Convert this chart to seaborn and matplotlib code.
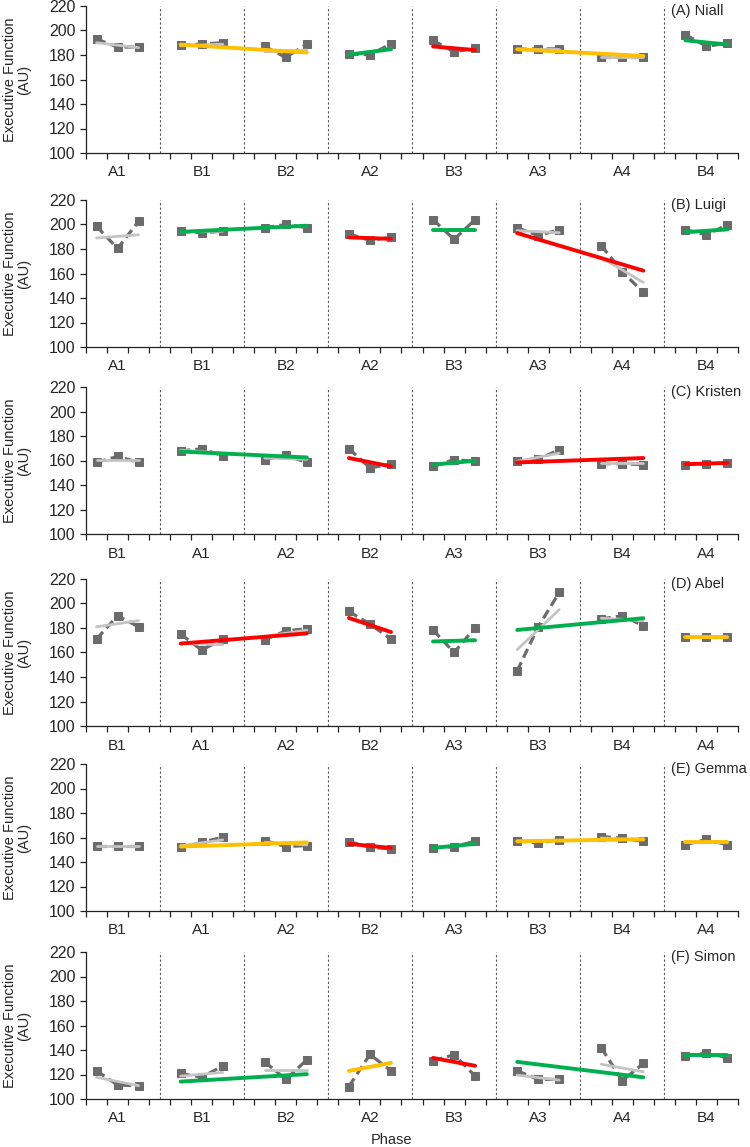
import matplotlib
matplotlib.use("Agg")
import matplotlib.pyplot as plt
import numpy as np
import pandas as pd
import seaborn as sns

participants = ["(A) Niall", "(B) Luigi", "(C) Kristen", "(D) Abel", "(E) Gemma", "(F) Simon"]

phase_orders = [
    ["A1", "B1", "B2", "A2", "B3", "A3", "A4", "B4"],
    ["A1", "B1", "B2", "A2", "B3", "A3", "A4", "B4"],
    ["B1", "A1", "A2", "B2", "A3", "B3", "B4", "A4"],
    ["B1", "A1", "A2", "B2", "A3", "B3", "B4", "A4"],
    ["B1", "A1", "A2", "B2", "A3", "B3", "B4", "A4"],
    ["A1", "B1", "B2", "A2", "B3", "A3", "A4", "B4"],
]

# three sessions per phase, listed in phase order
session_scores = [
    [193, 186.5, 186.5, 188, 189, 190, 187, 178, 189, 180.5, 180.3, 189,
     192, 182.5, 185.7, 184.7, 185, 185, 178.3, 178.3, 178.3, 196.7, 187, 189.8],
    [198.5, 180.5, 202.5, 194.5, 193.3, 194.5, 197.4, 200, 197.4, 192.4, 187, 189.6,
     204, 187.8, 204, 197.4, 191, 195.7, 182.8, 161.5, 144.5, 195.7, 191.6, 199.8],
    [158.5, 163.3, 158.5, 168, 169.4, 164, 160.7, 164.2, 158.4, 169.6, 154, 157,
     155.2, 160.7, 159.3, 159.3, 161, 168.8, 157.4, 157.4, 156.6, 156.6, 157.4, 158],
    [171, 190, 181, 175, 162, 171, 170.6, 177.6, 179.5, 193.5, 183.2, 171,
     178.4, 160, 180.3, 145, 181, 209, 187.4, 190, 181.8, 173, 173, 173],
    [153, 153, 153, 152, 156, 160.3, 157.5, 152.6, 153.4, 156.7, 152, 150.7,
     151.5, 152.6, 156.9, 157.5, 155.3, 158.3, 160.8, 159.4, 156.9, 154.2, 158.4, 154],
    [123, 111.5, 110.7, 121, 117.7, 127, 130.3, 116, 132, 110.2, 136.4, 123,
     131, 136.2, 118.7, 123, 116, 116, 141.8, 115, 129, 135, 137.5, 133.7],
]

# grey within-phase trend: value at first and last session of each phase
trend_start = [
    [190, 187.5, 182.5, 180.5, 187, 184.7, 178.3, 192],
    [189, 194, 197.5, 190, 195.7, 195, 173, 194],
    [160.6, 168.5, 162, 162, 156.6, 159.3, 158, 157],
    [181, 167.3, 173.2, 188.2, 169, 162.3, 188, 173],
    [153, 153.4, 156, 154.8, 151.5, 157, 159.5, 156],
    [117.7, 118.7, 123.5, 122.9, 133.5, 119.5, 128.4, 135.7],
]
trend_end = [
    [186, 188.8, 184, 185, 184, 184.7, 178.3, 188.5],
    [191.6, 194.5, 199, 188, 195.7, 193.3, 152.7, 196],
    [160.6, 166, 161, 155.2, 159.8, 166, 158, 158],
    [186, 166.4, 178.2, 176.7, 170, 195, 186, 173],
    [153, 158, 154, 151.5, 154.8, 157.5, 158, 156],
    [110.9, 121.7, 123.5, 129.5, 127.1, 115.4, 122.2, 135.7],
]

# coloured trends: spans of phases (first, last), same for everyone
fit_spans = [(1, 2), (3, 3), (4, 4), (5, 6), (7, 7)]
fit_start = [
    [188.5, 180.3, 187, 184.7, 192],
    [194, 189.5, 195.7, 193, 193.7],
    [167.3, 162, 156.6, 158.4, 157],
    [167.3, 188.2, 169, 178.4, 173],
    [152.6, 154.8, 151.5, 156.9, 156],
    [114.2, 122.9, 133.5, 130.3, 135.7],
]
fit_end = [
    [182, 184.7, 184, 179.2, 188.5],
    [199, 188.3, 195.7, 162.3, 196],
    [162.5, 155.2, 159.8, 162, 158],
    [175.6, 176.7, 170, 188, 173],
    [156, 151.5, 154.8, 158.6, 156],
    [120.3, 129.5, 127.1, 117.7, 135.7],
]
fit_colors = [
    ["amber", "green", "red", "amber", "green"],
    ["green", "red", "green", "red", "green"],
    ["green", "red", "green", "red", "red"],
    ["red", "red", "green", "green", "amber"],
    ["amber", "red", "green", "amber", "amber"],
    ["green", "amber", "red", "green", "green"],
]

palette = {"green": "#00b050", "red": "#ff0000", "amber": "#ffc000"}

sns.set_style("ticks")
plt.rcParams["font.family"] = ["Liberation Sans", "DejaVu Sans"]

W, H = 750, 1147
fig = plt.figure(figsize=(W / 100, H / 100), dpi=100)

panel_tops = [6, 200, 387, 579, 764, 952]
panel_height = 147
n_phase = 8

for k, name in enumerate(participants):
    top = panel_tops[k]
    ax = fig.add_axes([86 / W, 1 - (top + panel_height) / H, 652 / W, panel_height / H])

    xpos = np.concatenate([[4 * p, 4 * p + 1, 4 * p + 2] for p in range(n_phase)])
    df = pd.DataFrame({
        "session": xpos,
        "score": session_scores[k],
        "phase": np.repeat(phase_orders[k], 3),
    })

    for p, ph in enumerate(phase_orders[k]):
        sub = df[df["phase"] == ph]
        sns.lineplot(data=sub, x="session", y="score", ax=ax, color="#6b6b6b",
                     linewidth=2.3, linestyle=(0, (3.0, 1.6)), marker="s",
                     markersize=6, markeredgecolor="#6b6b6b", zorder=3)
        tr = pd.DataFrame({"session": [4 * p, 4 * p + 2],
                           "score": [trend_start[k][p], trend_end[k][p]]})
        sns.lineplot(data=tr, x="session", y="score", ax=ax, color="#c4c4c4",
                     linewidth=2.0, zorder=4)

    for j, (p0, p1) in enumerate(fit_spans):
        fl = pd.DataFrame({"session": [4 * p0, 4 * p1 + 2],
                           "score": [fit_start[k][j], fit_end[k][j]]})
        sns.lineplot(data=fl, x="session", y="score", ax=ax,
                     color=palette[fit_colors[k][j]], linewidth=2.8, zorder=5)

    for p in range(n_phase - 1):
        ax.axvline(4 * p + 3, color="#555555", linestyle=(0, (2, 2)), linewidth=0.8, zorder=1)

    ax.set_xlim(-0.5, 4 * n_phase - 1.5)
    ax.set_ylim(100, 220)
    ax.set_yticks(np.arange(100, 221, 20))
    ax.set_xticks([4 * p + 1 for p in range(n_phase)])
    ax.set_xticklabels(phase_orders[k], fontsize=11)
    ax.set_xticks(np.arange(-0.5, 4 * n_phase - 1, 1), minor=True)
    ax.tick_params(axis="x", which="major", length=0, pad=9)
    ax.tick_params(axis="x", which="minor", length=4, width=0.9, color="#222222")
    ax.tick_params(axis="y", length=4, width=0.9, labelsize=11.5, color="#222222")
    sns.despine(ax=ax)
    for s in ["left", "bottom"]:
        ax.spines[s].set_color("#222222")
        ax.spines[s].set_linewidth(0.9)

    ax.set_xlabel("")
    ax.set_ylabel("Executive Function\n(AU)", fontsize=10.5, linespacing=1.0)
    ax.yaxis.set_label_coords(-0.084, 0.5)
    ax.text(27.3, 0.965, name, transform=ax.get_xaxis_transform(),
            ha="left", va="center", fontsize=10.5)

fig.text(391 / W, 1 - 1140 / H, "Phase", ha="center", va="center", fontsize=10.5)

fig.savefig("out.png", dpi=100)
